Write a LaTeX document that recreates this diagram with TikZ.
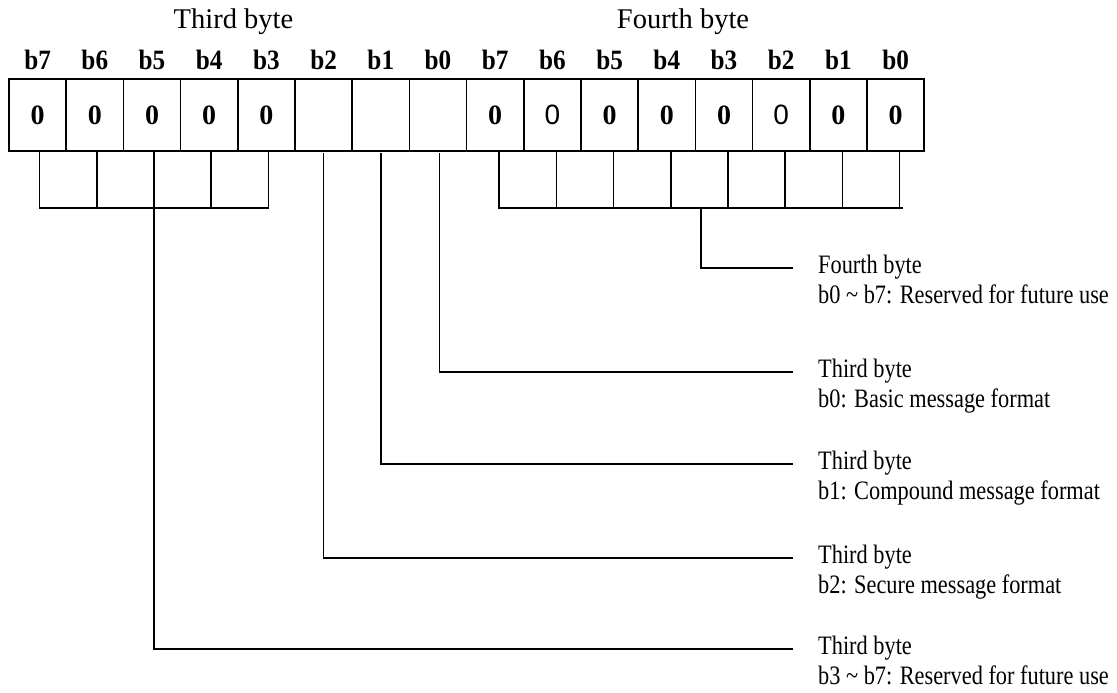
\documentclass[tikz,border=0pt]{standalone}
\usepackage{fontspec}
\setmainfont{Liberation Serif}
\newfontfamily\descfont{Liberation Serif}[FakeStretch=0.84]
\newfontfamily\bitfont{Liberation Serif}[FakeStretch=0.9]
\newfontfamily\zsansfont{Liberation Sans}
\usetikzlibrary{calc}
\newcommand\zeroB{0}
\newcommand\zeroS{{\zsansfont\mdseries\raisebox{1.5pt}{0}}}
\begin{document}
\begin{tikzpicture}[x=1pt,y=-1pt,
  ln/.style={line width=1.5pt, line cap=rect},
  cell/.style={draw, line width=1.5pt, minimum width=57.2pt, minimum height=72pt, inner sep=0pt,
    font=\bfseries\fontsize{28}{28}\selectfont},
  bitlbl/.style={anchor=base, inner sep=0pt, font=\bitfont\bfseries\fontsize{28}{28}\selectfont},
  titlelbl/.style={anchor=base, inner sep=0pt, font=\fontsize{28.5}{30}\selectfont},
  desc/.style={anchor=base west, inner sep=0pt, font=\descfont\fontsize{26.6}{30}\selectfont}]
\fill[white] (0,0) rectangle (1117,693);
\useasboundingbox (0,0) rectangle (1117,693);

% titles
\node[titlelbl] (tt3) at (233.5,28.5) {Third byte};
\node[titlelbl] (tt4) at (683,28.5) {Fourth byte};

% cells and bit labels
\foreach \i/\t/\b in {0/\zeroB/b7, 1/\zeroB/b6, 2/\zeroB/b5, 3/\zeroB/b4, 4/\zeroB/b3,
  5/{}/b2, 6/{}/b1, 7/{}/b0, 8/\zeroB/b7, 9/\zeroS/b6, 10/\zeroB/b5, 11/\zeroB/b4,
  12/\zeroB/b3, 13/\zeroS/b2, 14/\zeroB/b1, 15/\zeroB/b0}{
  \node[cell] (c\i) at ({9+57.2*\i+28.6},115) {\t};
  \node[bitlbl] (l\i) at ({9+57.2*\i+28.6},70) {\b};
}

% third byte b7..b3 bracket
\foreach \i in {0,...,4}
  \draw[ln] ([xshift=2pt]c\i.south) -- ++(0,56);
\coordinate (A0) at ([xshift=2pt,yshift=-56pt]c0.south);
\coordinate (A2) at ([xshift=2pt,yshift=-56pt]c2.south);
\coordinate (A4) at ([xshift=2pt,yshift=-56pt]c4.south);
\draw[ln] (A0) -- (A4);

% fourth byte bracket
\foreach \i in {8,...,15}
  \draw[ln] ([xshift=4pt]c\i.south) -- ++(0,56);
\coordinate (B0) at ([xshift=4pt,yshift=-56pt]c8.south);
\coordinate (B1) at ([xshift=7pt,yshift=-56pt]c15.south);
\draw[ln] (B0) -- (B1);

% line ends
\coordinate (e4) at (792,268);
\coordinate (e0) at (792,372);
\coordinate (e1) at (792,464);
\coordinate (e2) at (792,558);
\coordinate (e5) at (792,649);

% leader lines
\draw[ln] ($(B0)!0.5!(B1)$) |- (e4);
\draw[ln] ([xshift=1.5pt,yshift=-2pt]c7.south) |- (e0);
\draw[ln] ([yshift=-2pt]c6.south) |- (e1);
\draw[ln] ([yshift=-2pt]c5.south) |- (e2);
\draw[ln] (A2) |- (e5);

% descriptions
\node[desc] (t4a) at (818,273) {Fourth byte};
\node[desc] (t4b) at (818,303) {b0 \textasciitilde{} b7: Reserved for future use};
\node[desc] (t0a) at (818,377) {Third byte};
\node[desc] (t0b) at (818,407) {b0: Basic message format};
\node[desc] (t1a) at (818,469) {Third byte};
\node[desc] (t1b) at (818,499) {b1: Compound message format};
\node[desc] (t2a) at (818,563) {Third byte};
\node[desc] (t2b) at (818,593) {b2: Secure message format};
\node[desc] (t5a) at (818,654) {Third byte};
\node[desc] (t5b) at (818,684) {b3 \textasciitilde{} b7: Reserved for future use};
\end{tikzpicture}
\end{document}
